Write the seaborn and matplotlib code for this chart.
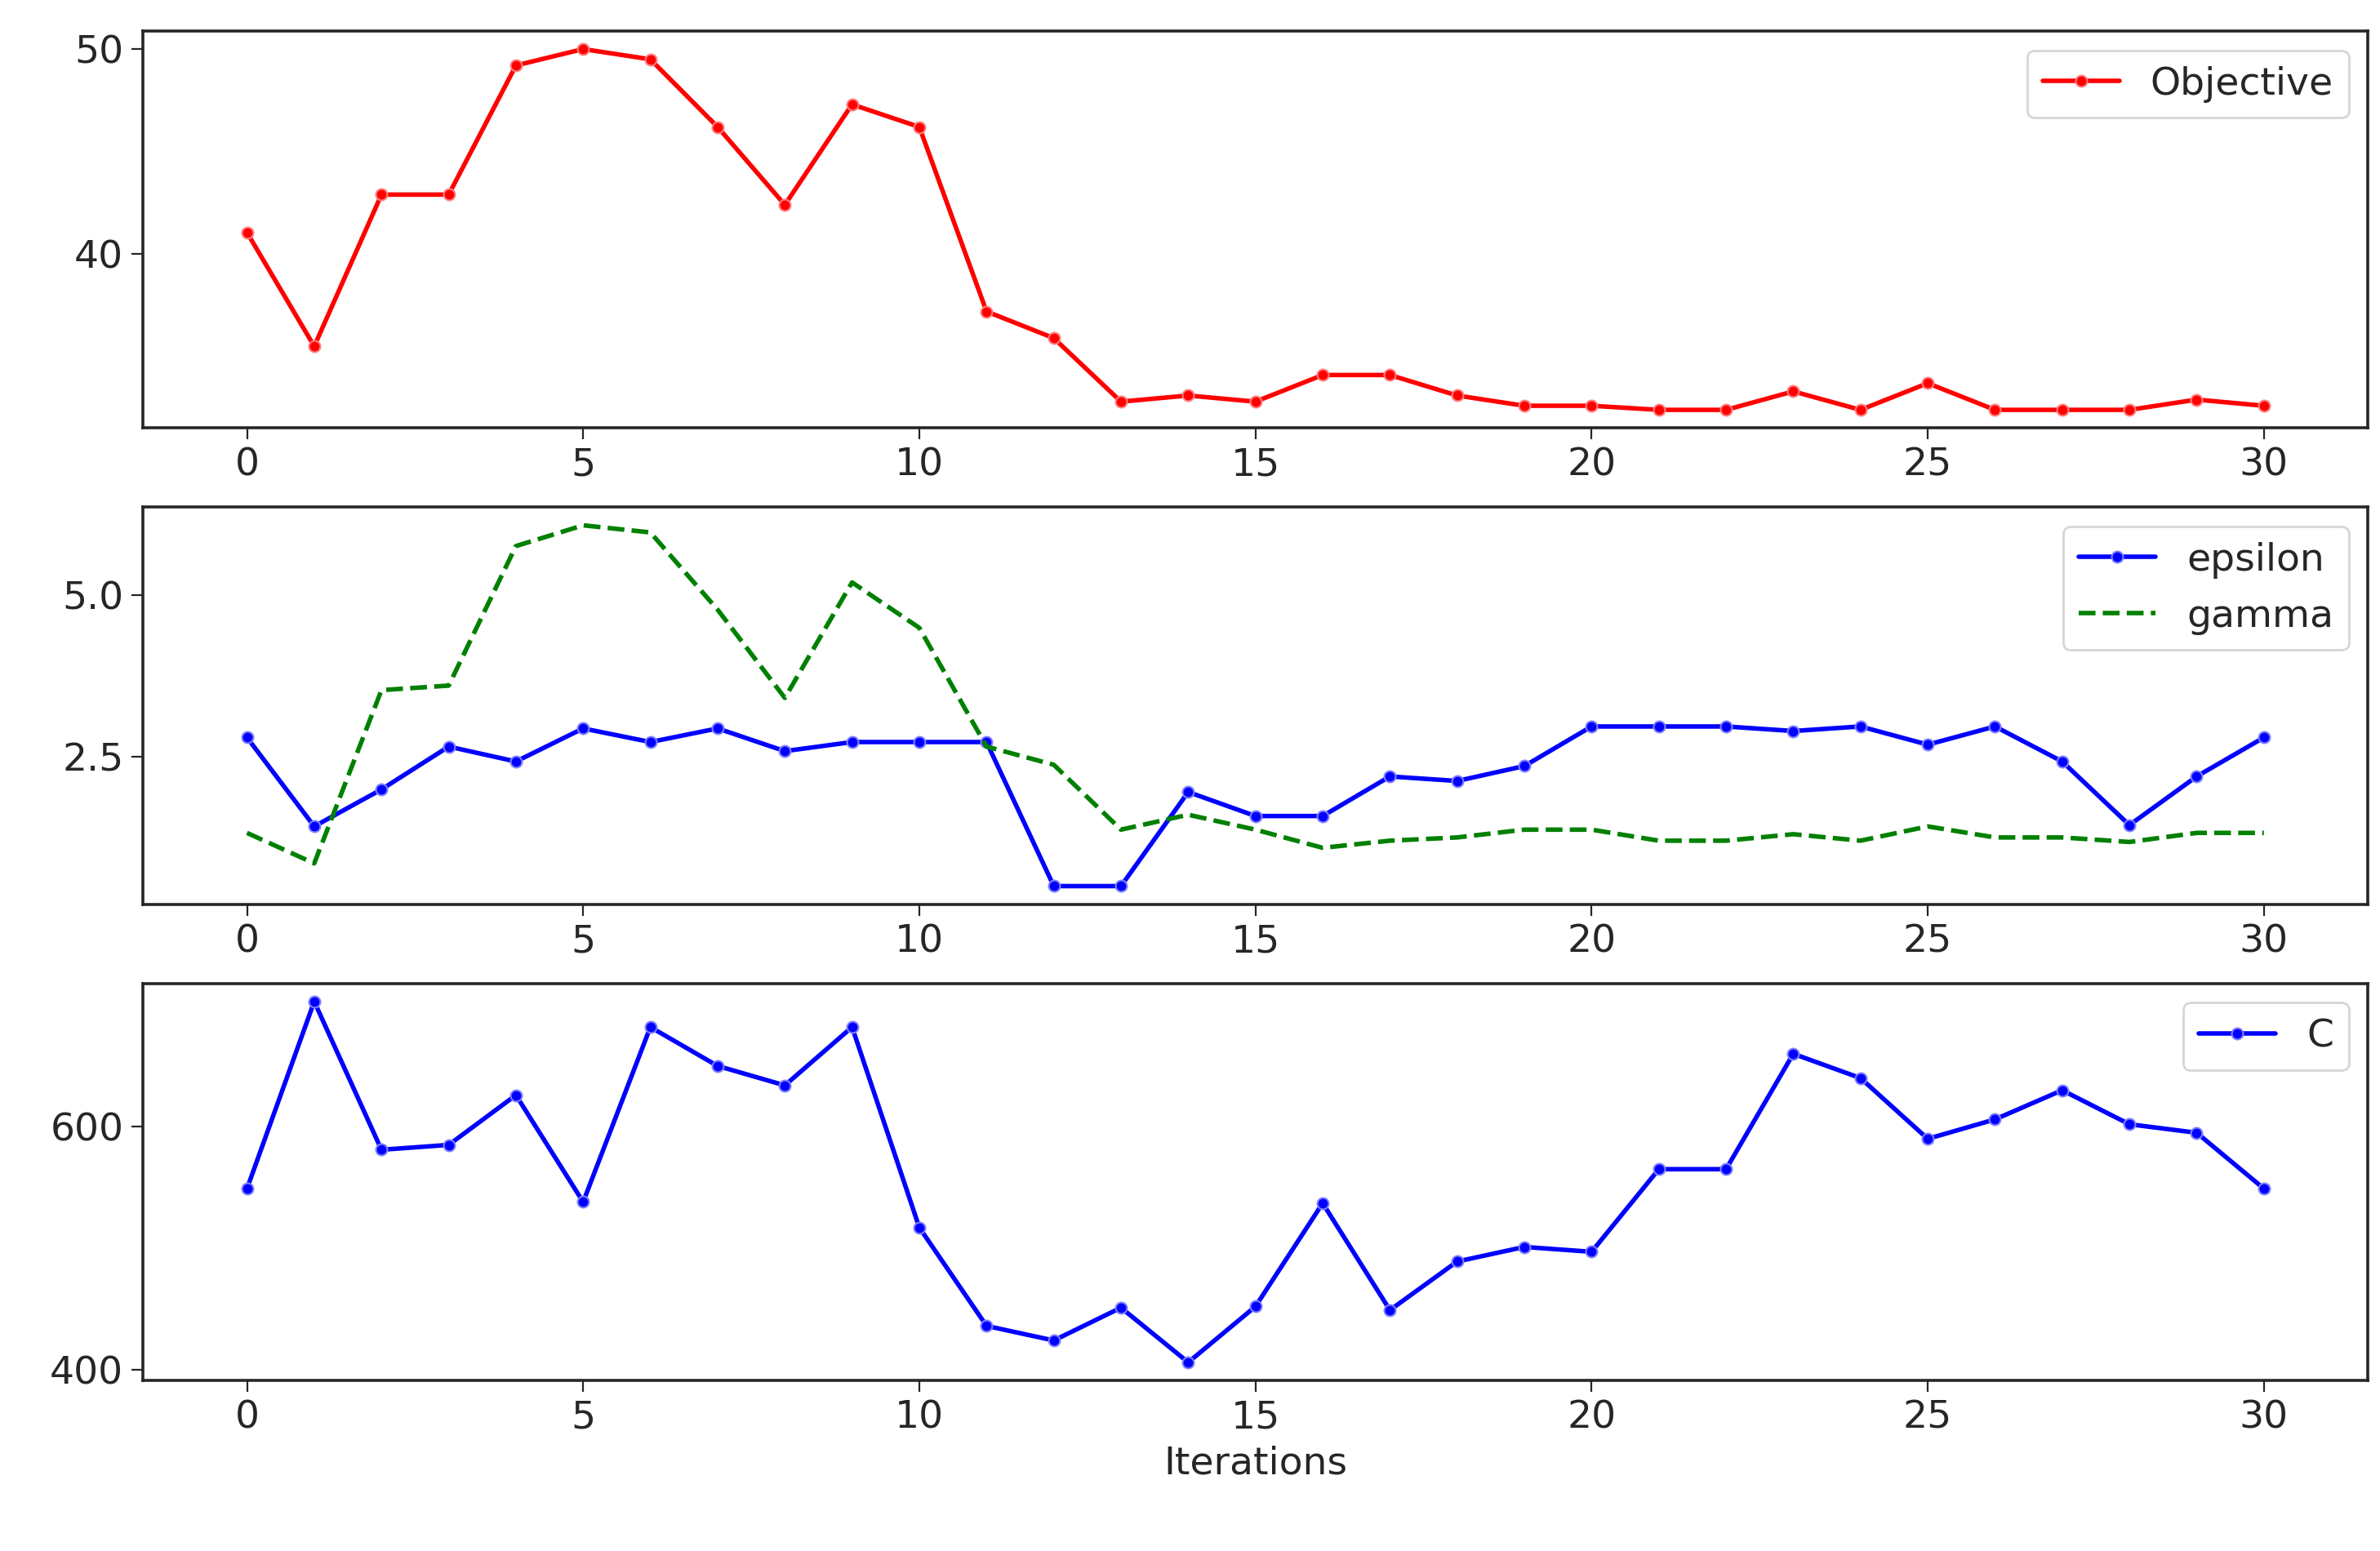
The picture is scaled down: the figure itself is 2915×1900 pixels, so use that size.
import numpy as np
import pandas as pd
import seaborn as sns
import matplotlib.pyplot as plt

iterations = list(range(31))
objective = [41.05, 35.5, 42.9, 42.9, 49.2, 50.0, 49.5, 46.2, 42.4, 47.3, 46.2,
             37.2, 35.9, 32.8, 33.1, 32.8, 34.1, 34.1, 33.1, 32.6, 32.6,
             32.4, 32.4, 33.3, 32.4, 33.7, 32.4, 32.4, 32.4, 32.9, 32.6]
epsilon = [2.8, 1.43, 2.0, 2.66, 2.43, 2.94, 2.73, 2.94, 2.59, 2.73, 2.73,
           2.73, 0.51, 0.51, 1.96, 1.59, 1.59, 2.2, 2.13, 2.36, 2.97,
           2.97, 2.97, 2.9, 2.97, 2.69, 2.97, 2.43, 1.45, 2.2, 2.8]
gamma = [1.33, 0.86, 3.53, 3.6, 5.75, 6.07, 5.96, 4.77, 3.41, 5.19, 4.49,
         2.66, 2.38, 1.38, 1.61, 1.38, 1.1, 1.21, 1.26, 1.38, 1.38,
         1.21, 1.21, 1.31, 1.21, 1.43, 1.26, 1.26, 1.19, 1.33, 1.33]
C = [549, 703, 581, 585, 626, 538, 682, 650, 634, 682, 517,
     436, 424, 451, 406, 452, 537, 449, 489, 501, 497,
     565, 565, 660, 640, 590, 606, 630, 602, 595, 549]

df = pd.DataFrame({'iter': iterations, 'Objective': objective,
                   'epsilon': epsilon, 'gamma': gamma, 'C': C})

sns.set_style("ticks")
plt.rcParams['font.family'] = ['DejaVu Sans']
plt.rcParams['font.size'] = 17

fig, axes = plt.subplots(3, 1, figsize=(14.575, 9.5), dpi=200)
fig.subplots_adjust(left=0.06, right=0.995, top=0.98, bottom=0.11, hspace=0.2)

lw = 2.0
sns.lineplot(data=df, x='iter', y='Objective', ax=axes[0], color='red', linewidth=lw,
             marker='o', markersize=5, markeredgecolor='#ff8080', label='Objective')
axes[0].set_yticks([40, 50])

sns.lineplot(data=df, x='iter', y='epsilon', ax=axes[1], color='blue', linewidth=lw,
             marker='o', markersize=5, markeredgecolor='#8080ff', label='epsilon')
sns.lineplot(data=df, x='iter', y='gamma', ax=axes[1], color='green', linewidth=lw,
             linestyle='--', label='gamma')
axes[1].set_yticks([2.5, 5.0])

sns.lineplot(data=df, x='iter', y='C', ax=axes[2], color='blue', linewidth=lw,
             marker='o', markersize=5, markeredgecolor='#8080ff', label='C')
axes[2].set_yticks([400, 600])

for i, ax in enumerate(axes):
    ax.set_ylabel('')
    ax.set_xlabel('Iterations' if i == 2 else '')
    ax.set_xticks([0, 5, 10, 15, 20, 25, 30])
    ax.set_xlim(-1.55, 31.55)
    ax.tick_params(labelsize=17, direction='out', length=5)
    for s in ax.spines.values():
        s.set_linewidth(1.3)
    ax.legend(loc='upper right', fontsize=17)

fig.savefig('out.png')
